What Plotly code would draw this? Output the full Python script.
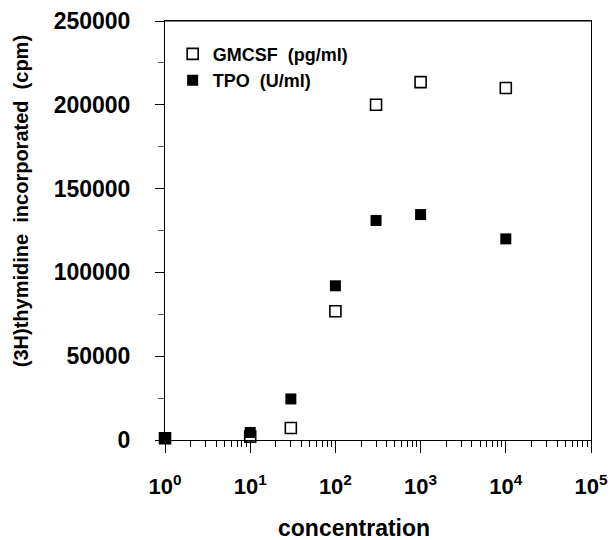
import plotly.graph_objects as go

# ---- data ----
concentration = [1, 10, 30, 100, 300, 1000, 10000]
gmcsf_cpm = [1000, 2000, 7200, 76800, 200000, 213500, 210000]
tpo_cpm = [1400, 4500, 24500, 92000, 131000, 134500, 120000]

series_names = ["GMCSF  (pg/ml)", "TPO  (U/ml)"]
x_tick_vals = [1, 10, 100, 1000, 10000, 100000]
x_tick_text = ["10<sup>0</sup>", "10<sup>1</sup>", "10<sup>2</sup>",
               "10<sup>3</sup>", "10<sup>4</sup>", "10<sup>5</sup>"]
y_tick_vals = [0, 50000, 100000, 150000, 200000, 250000]
y_tick_text = ["0", "50000", "100000", "150000", "200000", "250000"]

x_title = "concentration"
y_title = "(3H)thymidine  incorporated  (cpm)"

FONT = "Liberation Sans, Arial, sans-serif"

fig = go.Figure()
fig.add_trace(go.Scatter(
    x=concentration, y=gmcsf_cpm, mode="markers", name=series_names[0],
    marker=dict(symbol="square-open", size=11, color="black",
                line=dict(width=1.6, color="black")),
    cliponaxis=False, legendgroup="a"))
fig.add_trace(go.Scatter(
    x=concentration, y=tpo_cpm, mode="markers", name=series_names[1],
    marker=dict(symbol="square", size=11, color="black",
                line=dict(width=0, color="black")),
    cliponaxis=False, legendgroup="b"))

fig.update_layout(
    width=608, height=532,
    margin=dict(l=157, r=25, t=13, b=100, autoexpand=False),
    paper_bgcolor="white", plot_bgcolor="white",
    font=dict(family=FONT, color="black", size=18, weight="bold"),
    showlegend=True,
    legend=dict(x=0.018, y=0.965, xanchor="left", yanchor="top",
                bgcolor="rgba(0,0,0,0)", borderwidth=0,
                font=dict(family=FONT, size=18, color="black", weight="bold"),
                tracegroupgap=0, traceorder="grouped", itemwidth=30),
    xaxis=dict(type="log", range=[0, 5], automargin=False,
               tickmode="array", tickvals=x_tick_vals, ticktext=x_tick_text,
               ticks="outside", ticklen=12, tickwidth=1, tickcolor="black",
               ticklabelstandoff=15, ticklabeloverflow="allow",
               minor=dict(dtick="D1", ticks="outside", ticklen=6,
                          tickwidth=1, tickcolor="black", showgrid=False),
               showline=True, linecolor="black", linewidth=1, mirror=True,
               showgrid=False, zeroline=False,
               tickfont=dict(family=FONT, size=22, color="black", weight="bold")),
    yaxis=dict(range=[0, 250000], automargin=False,
               tickmode="array", tickvals=y_tick_vals, ticktext=y_tick_text,
               ticks="outside", ticklen=9, tickwidth=1, tickcolor="black",
               ticklabelstandoff=20, ticklabeloverflow="allow",
               minor=dict(dtick=25000, ticks="outside", ticklen=6,
                          tickwidth=1, tickcolor="#555", showgrid=False),
               showline=True, linecolor="black", linewidth=1, mirror=True,
               showgrid=False, zeroline=False,
               tickfont=dict(family=FONT, size=23, color="black", weight="bold")),
    shapes=[
        dict(type="line", xref="paper", yref="paper", x0=0, x1=1, y0=1, y1=1,
             line=dict(color="black", width=1)),
    ],
    annotations=[
        dict(text=x_title, xref="paper", yref="paper", x=0.444, y=-0.21,
             xanchor="center", yanchor="middle", showarrow=False,
             font=dict(family=FONT, size=23, color="black", weight="bold")),
        dict(text=y_title, xref="paper", yref="paper", x=-0.338, y=0.57,
             xanchor="center", yanchor="middle", showarrow=False, textangle=-90,
             font=dict(family=FONT, size=20, color="black", weight="bold")),
    ],
)

fig.write_html("out.html")
